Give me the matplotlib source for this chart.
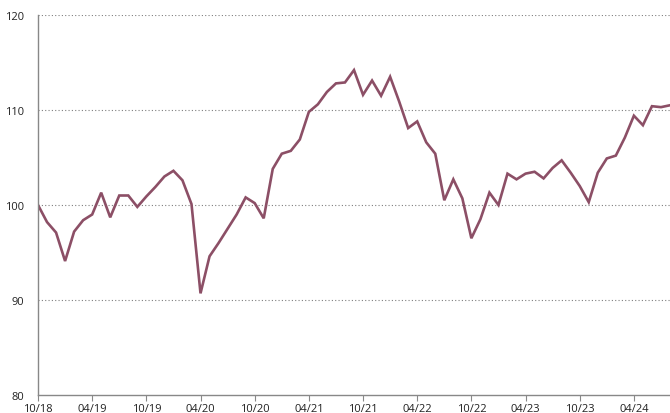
import matplotlib.pyplot as plt
import matplotlib as mpl

# monthly index, 10/18 = 100
values = [100.0, 98.2, 97.1, 94.1, 97.2, 98.4, 99.0, 101.3, 98.7, 101.0,
          101.0, 99.8, 100.9, 101.9, 103.0, 103.6, 102.6, 100.1, 90.7, 94.6,
          96.0, 97.5, 99.0, 100.8, 100.2, 98.6, 103.8, 105.4, 105.7, 106.9,
          109.8, 110.6, 111.9, 112.8, 112.9, 114.2, 111.6, 113.1, 111.5, 113.5,
          110.9, 108.1, 108.8, 106.6, 105.4, 100.5, 102.7, 100.7, 96.5, 98.5,
          101.3, 100.0, 103.3, 102.7, 103.3, 103.5, 102.8, 103.9, 104.7, 103.4,
          102.0, 100.3, 103.4, 104.9, 105.2, 107.1, 109.4, 108.4, 110.4, 110.3,
          110.5]
months = list(range(len(values)))

tick_labels = ["10/18", "04/19", "10/19", "04/20", "10/20", "04/21",
               "10/21", "04/22", "10/22", "04/23", "10/23", "04/24"]
tick_pos = [6 * i for i in range(len(tick_labels))]
y_ticks = [80, 90, 100, 110, 120]

mpl.rcParams.update({
    'font.family': ['Open Sans', 'DejaVu Sans'],
    'font.size': 8,
})

fig = plt.figure(figsize=(6.70, 4.14), dpi=100)
ax = fig.add_axes([38 / 670, 1 - 396 / 414, 1 - 38 / 670, (396 - 16) / 414])

ax.plot(months, values, color='#8c4f66', linewidth=1.9, solid_joinstyle='miter', clip_on=True)

ax.set_xlim(0, 70)
ax.set_ylim(80, 120)
ax.set_yticks(y_ticks)
ax.set_xticks(tick_pos)
ax.set_xticklabels(tick_labels)

# dotted horizontal gridlines
for y in y_ticks[1:]:
    ax.axhline(y, color='#7f7f7f', linestyle=(0, (1, 2)), linewidth=0.8, zorder=0)

for s in ['top', 'right']:
    ax.spines[s].set_visible(False)
for s in ['left', 'bottom']:
    ax.spines[s].set_color('#888888')
    ax.spines[s].set_linewidth(1.0)

ax.tick_params(axis='y', length=0, pad=10, labelcolor='#222222')
ax.tick_params(axis='x', length=4, width=0.8, color='#888888', direction='out',
               pad=2, labelcolor='#222222')

fig.savefig('out.png', dpi=100)
